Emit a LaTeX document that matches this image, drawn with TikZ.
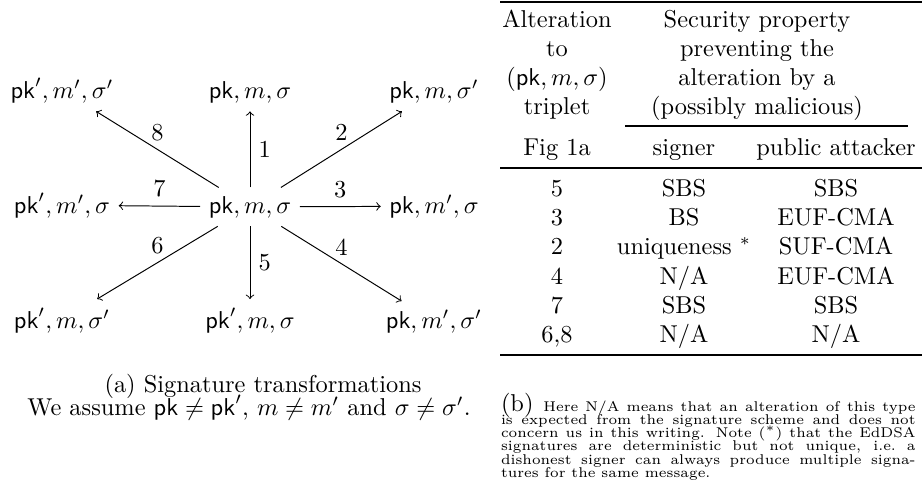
\documentclass[tikz,border=0pt]{standalone}
\usepackage{amsmath}
\tikzset{
  cell/.style={inner sep=0pt,outer sep=0pt,anchor=base},
  lead/.style={inner sep=0pt,outer sep=0pt,anchor=base west},
  triple/.style={anchor=base},
  alter/.style={->,line width=0.4pt},
  heavyrule/.style={line width=0.8pt},
  lightrule/.style={line width=0.5pt}
}
\newcommand{\notefont}{\fontsize{5.8}{5.8}\selectfont}
\newcommand{\fillline}[1]{\makebox[170pt][s]{#1}}
\begin{document}
\begin{tikzpicture}[x=.41pt,y=-.41pt]
\path[use as bounding box] (0,0) rectangle (922,480);
% (a) transformations of the triplet
\node[triple] (src) at (250,213) {$\mathsf{pk}, m, \sigma$};
\node[triple] (t1) at (250,98) {$\mathsf{pk}, m, \sigma$};
\node[triple] (t2) at (434,98) {$\mathsf{pk}, m, \sigma'$};
\node[triple] (t3) at (434,213) {$\mathsf{pk}, m', \sigma$};
\node[triple] (t4) at (434,328) {$\mathsf{pk}, m', \sigma'$};
\node[triple] (t5) at (250,328) {$\mathsf{pk}', m, \sigma$};
\node[triple] (t6) at (62,328) {$\mathsf{pk}', m, \sigma'$};
\node[triple] (t7) at (62,213) {$\mathsf{pk}', m', \sigma$};
\node[triple] (t8) at (62,98) {$\mathsf{pk}', m', \sigma'$};
\draw[alter] (src) -- node[right] {1} (t1);
\draw[alter] (src) -- node[above] {2} (t2);
\draw[alter] (src) -- node[above] {3} (t3);
\draw[alter] (src) -- node[above] {4} (t4);
\draw[alter] (src) -- node[right] {5} (t5);
\draw[alter] (src) -- node[above] {6} (t6);
\draw[alter] (src) -- node[above] {7} (t7);
\draw[alter] (src) -- node[above] {8} (t8);
\node[cell] (capa) at (263,392) {(a) Signature transformations};
\node[cell] (capb) at (249,415) {We assume $\mathsf{pk} \neq \mathsf{pk}'$, $m \neq m'$ and $\sigma \neq \sigma'$.};
% (b) table
\draw[heavyrule] (500,2) -- (922,2);
\node[cell] (h11) at (557,27) {Alteration};
\node[cell] (h12) at (557,56) {to};
\node[cell] (h13) at (557,85) {$(\mathsf{pk}, m, \sigma)$};
\node[cell] (h14) at (557,114) {triplet};
\node[cell] (h21) at (757,27) {Security property};
\node[cell] (h22) at (757,56) {preventing the};
\node[cell] (h23) at (757,85) {alteration by a};
\node[cell] (h24) at (757,114) {(possibly malicious)};
\draw[lightrule] (625,126) -- (908,126);
\node[cell] (fig) at (557,155) {Fig 1a};
\node[cell] (signer) at (684,155) {signer};
\node[cell] (public) at (836,155) {public attacker};
\draw[line width=0.6pt] (500,168) -- (922,168);
\node[cell] (r1a) at (557,196) {5};
\node[cell] (r1b) at (684,196) {SBS};
\node[cell] (r1c) at (836,196) {SBS};
\node[cell] (r2a) at (557,225) {3};
\node[cell] (r2b) at (684,225) {BS};
\node[cell] (r2c) at (836,225) {EUF-CMA};
\node[cell] (r3a) at (557,254) {2};
\node[cell] (r3b) at (684,254) {uniqueness $^*$};
\node[cell] (r3c) at (836,254) {SUF-CMA};
\node[cell] (r4a) at (557,284) {4};
\node[cell] (r4b) at (684,284) {N/A};
\node[cell] (r4c) at (836,284) {EUF-CMA};
\node[cell] (r5a) at (557,313) {7};
\node[cell] (r5b) at (684,313) {SBS};
\node[cell] (r5c) at (836,313) {SBS};
\node[cell] (r6a) at (557,342) {6,8};
\node[cell] (r6b) at (684,342) {N/A};
\node[cell] (r6c) at (836,342) {N/A};
\draw[heavyrule] (500,355) -- (922,355);
% (b) note
\node[lead] (note1) at (501,411) {\fillline{(b) \notefont Here N/A means that an alteration of this type}};
\node[lead] (note2) at (501,424.3) {\notefont\fillline{is expected from the signature scheme and does not}};
\node[lead] (note3) at (501,437.6) {\notefont\fillline{concern us in this writing. Note ($^*$) that the EdDSA}};
\node[lead] (note4) at (501,450.9) {\notefont\fillline{signatures are deterministic but not unique, i.e.\ a}};
\node[lead] (note5) at (501,464.2) {\notefont\fillline{dishonest signer can always produce multiple signa-}};
\node[lead] (note6) at (501,477.5) {\notefont tures for the same message.};
\end{tikzpicture}
\end{document}
